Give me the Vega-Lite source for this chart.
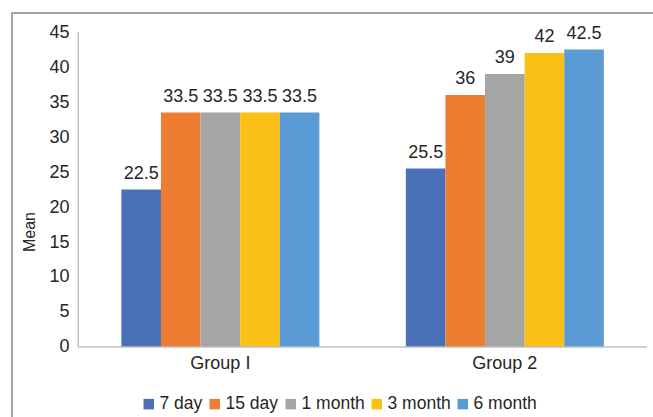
{
  "$schema": "https://vega.github.io/schema/vega-lite/v6.json",
  "autosize": "none",
  "padding": {"left": 12, "top": 13, "right": -59, "bottom": -33},
  "width": 700,
  "height": 437,
  "background": "white",
  "config": {
    "view": {"stroke": "#888888", "strokeWidth": 1.5},
    "font": "Liberation Sans"
  },
  "datasets": {
    "means": [
      {"group": "Group I", "period": "7 day", "mean": 22.5},
      {"group": "Group I", "period": "15 day", "mean": 33.5},
      {"group": "Group I", "period": "1 month", "mean": 33.5},
      {"group": "Group I", "period": "3 month", "mean": 33.5},
      {"group": "Group I", "period": "6 month", "mean": 33.5},
      {"group": "Group 2", "period": "7 day", "mean": 25.5},
      {"group": "Group 2", "period": "15 day", "mean": 36},
      {"group": "Group 2", "period": "1 month", "mean": 39},
      {"group": "Group 2", "period": "3 month", "mean": 42},
      {"group": "Group 2", "period": "6 month", "mean": 42.5}
    ],
    "yline": [
      {"group": "Group I"}
    ],
    "xline": [
      {"group": "Group I"},
      {"group": "Group 2"}
    ]
  },
  "layer": [
    {
      "data": {"name": "means"},
      "mark": {"type": "bar"},
      "encoding": {
        "x": {
          "field": "group", "type": "nominal", "sort": ["Group I", "Group 2"],
          "scale": {"paddingInner": 0.304, "paddingOuter": 0.3823, "align": 0.5028},
          "axis": {"title": null, "labelAngle": 0, "ticks": false, "domain": false, "offset": -103, "labelFontSize": 18, "labelColor": "#262626", "labelPadding": 7}
        },
        "xOffset": {
          "field": "period", "type": "nominal",
          "sort": ["7 day", "15 day", "1 month", "3 month", "6 month"],
          "scale": {"paddingInner": 0, "paddingOuter": 0}
        },
        "y": {
          "field": "mean", "type": "quantitative",
          "scale": {"domain": [-14.7143, 47.7143], "nice": false, "zero": false},
          "axis": {"title": "Mean", "values": [0,5,10,15,20,25,30,35,40,45], "grid": false, "ticks": false, "domain": false, "offset": -66, "labelFontSize": 18, "labelColor": "#262626", "labelPadding": 9, "titleFontSize": 16, "titleFontWeight": "normal", "titleColor": "#262626", "titlePadding": 11}
        },
        "color": {
          "field": "period", "type": "nominal",
          "sort": ["7 day", "15 day", "1 month", "3 month", "6 month"],
          "scale": {"domain": ["7 day", "15 day", "1 month", "3 month", "6 month"], "range": ["#4A70B8", "#ED7D31", "#A5A5A5", "#FBC015", "#5B9BD5"]},
          "legend": {
            "title": null, "orient": "none", "direction": "horizontal",
            "legendX": 128, "legendY": 382,
            "symbolType": "square", "symbolSize": 110, "symbolStrokeWidth": 0,
            "labelFontSize": 17.5, "labelColor": "#262626", "labelOffset": 2,
            "columnPadding": 3
          }
        }
      }
    },
    {
      "data": {"name": "means"},
      "mark": {"type": "text", "baseline": "bottom", "dy": -7, "fontSize": 18, "color": "#262626"},
      "encoding": {
        "x": {"field": "group", "type": "nominal", "sort": ["Group I", "Group 2"]},
        "xOffset": {"field": "period", "type": "nominal", "sort": ["7 day", "15 day", "1 month", "3 month", "6 month"]},
        "y": {"field": "mean", "type": "quantitative"},
        "text": {"field": "mean", "type": "quantitative"}
      }
    },
    {
      "data": {"name": "yline"},
      "mark": {"type": "rule", "color": "#bfbfbf", "strokeWidth": 1.5},
      "encoding": {
        "x": {"field": "group", "type": "nominal", "sort": ["Group I", "Group 2"], "bandPosition": -0.218},
        "y": {"datum": 0},
        "y2": {"datum": 45}
      }
    },
    {
      "data": {"name": "xline"},
      "mark": {"type": "line", "color": "#bfbfbf", "strokeWidth": 1.5},
      "encoding": {
        "x": {"field": "group", "type": "nominal", "sort": ["Group I", "Group 2"], "bandPosition": -0.218},
        "y": {"datum": 0}
      }
    },
    {
      "data": {"name": "xline"},
      "mark": {"type": "line", "color": "#bfbfbf", "strokeWidth": 1.5},
      "encoding": {
        "x": {"field": "group", "type": "nominal", "sort": ["Group I", "Group 2"], "bandPosition": 1.2187},
        "y": {"datum": 0}
      }
    }
  ]
}
